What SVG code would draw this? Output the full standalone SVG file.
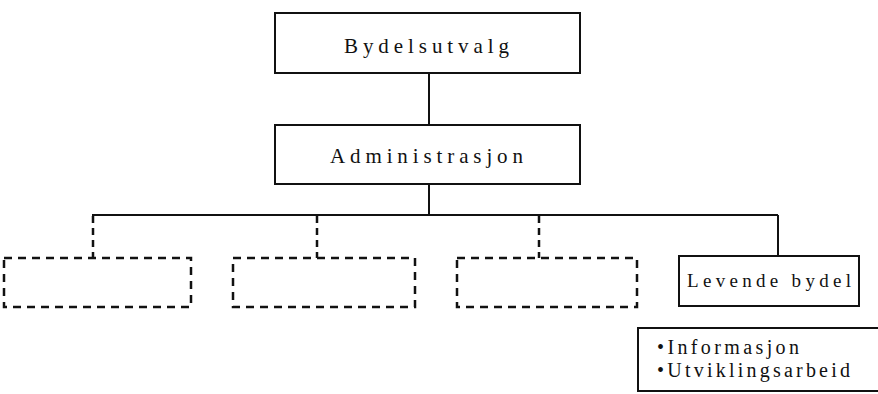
<svg xmlns="http://www.w3.org/2000/svg" width="878" height="394" viewBox="0 0 878 394">
<style>
.box{fill:#fff;stroke:#111;stroke-width:2}
.dbox{fill:none;stroke:#111;stroke-width:2.5;stroke-dasharray:8 6}
.ln{fill:none;stroke:#111;stroke-width:2}
.dln{fill:none;stroke:#111;stroke-width:2.5;stroke-dasharray:7 5}
text{font-family:"Liberation Serif","Times New Roman",serif;fill:#111}
.t1{font-size:21px}
.t2{font-size:19px}
.t3{font-size:20px}
</style>
<rect width="878" height="394" fill="#fff"/>
<g id="connectors">
<line class="ln" x1="429" y1="73" x2="429" y2="125"/>
<line class="ln" x1="429" y1="184" x2="429" y2="215"/>
<line class="ln" x1="92" y1="215" x2="778" y2="215"/>
<line class="ln" x1="778" y1="215" x2="778" y2="256"/>
<line class="dln" x1="93" y1="216" x2="93" y2="258"/>
<line class="dln" x1="317" y1="216" x2="317" y2="258"/>
<line class="dln" x1="539" y1="216" x2="539" y2="258"/>
</g>
<g id="bydelsutvalg">
<rect class="box" x="275" y="13" width="305" height="60"/>
<text class="t1" x="344" y="53" textLength="165" lengthAdjust="spacing">Bydelsutvalg</text>
</g>
<g id="administrasjon">
<rect class="box" x="275" y="125" width="305" height="59"/>
<text class="t1" x="330" y="163" textLength="193" lengthAdjust="spacing">Administrasjon</text>
</g>
<g id="unit1"><rect class="dbox" x="4" y="258" width="187" height="49"/></g>
<g id="unit2"><rect class="dbox" x="233" y="258" width="182" height="49"/></g>
<g id="unit3"><rect class="dbox" x="457" y="258" width="180" height="49"/></g>
<g id="levende-bydel">
<rect class="box" x="679" y="256" width="180" height="50"/>
<text class="t2" x="687" y="287" textLength="164" lengthAdjust="spacing">Levende bydel</text>
</g>
<g id="tasks">
<rect class="box" x="638" y="328" width="250" height="63"/>
<text class="t3" x="657" y="354" textLength="142" lengthAdjust="spacing">•Informasjon</text>
<text class="t3" x="657" y="377" textLength="193" lengthAdjust="spacing">•Utviklingsarbeid</text>
</g>
</svg>
